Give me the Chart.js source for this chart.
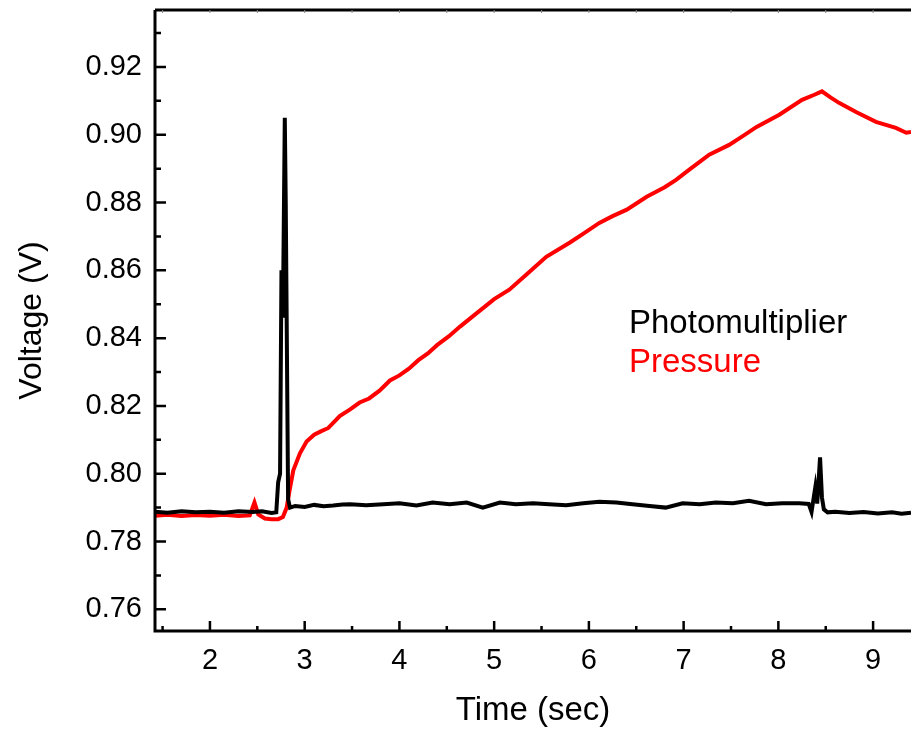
<!DOCTYPE html>
<html lang="en">
<head>
<meta charset="UTF-8" />
<title>Photomultiplier and pressure voltage</title>
<script src="https://cdn.jsdelivr.net/npm/chart.js"></script>
<style>
  body { margin: 0; background: #fff; }
  #chart { display: block; }
</style>
</head>
<body>
<canvas id="chart" width="911" height="731"></canvas>
<script>
  // tick labels
  const xTicks = [2, 3, 4, 5, 6, 7, 8, 9];
  const xMinor = [1.5, 2.5, 3.5, 4.5, 5.5, 6.5, 7.5, 8.5];
  const yTicks = [0.76, 0.78, 0.80, 0.82, 0.84, 0.86, 0.88, 0.90, 0.92];
  const yMinor = [0.77, 0.79, 0.81, 0.83, 0.85, 0.87, 0.89, 0.91, 0.93];

  // Photomultiplier trace
  const pmTime = [1.42, 1.55, 1.7, 1.85, 2.0, 2.15, 2.3, 2.45, 2.55, 2.65, 2.70, 2.72, 2.74, 2.755, 2.77, 2.79, 2.80, 2.825, 2.845,
    2.9, 3.0, 3.1, 3.2, 3.3, 3.4, 3.48, 3.65, 3.83, 4.0, 4.18, 4.35, 4.53, 4.71, 4.88, 5.06, 5.23, 5.41, 5.58, 5.76, 5.94,
    6.11, 6.29, 6.46, 6.64, 6.81, 6.99, 7.17, 7.34, 7.52, 7.69, 7.87, 8.04, 8.22, 8.32, 8.35, 8.39, 8.41, 8.44, 8.46, 8.48,
    8.52, 8.6, 8.75, 8.9, 9.05, 9.2, 9.3, 9.4];
  const pmVolt = [0.7888, 0.7885, 0.7889, 0.7886, 0.7888, 0.7885, 0.7889, 0.7887, 0.7889, 0.7884, 0.7886, 0.7975, 0.8000, 0.8600, 0.8460, 0.9050, 0.8800, 0.7925, 0.7900,
    0.7905, 0.7902, 0.7908, 0.7904, 0.7906, 0.7909, 0.7910, 0.7907, 0.7910, 0.7913, 0.7906, 0.7915, 0.7910, 0.7915, 0.7900, 0.7915, 0.7910, 0.7913, 0.7910, 0.7907, 0.7913,
    0.7917, 0.7915, 0.7910, 0.7905, 0.7900, 0.7913, 0.7910, 0.7915, 0.7913, 0.7920, 0.7910, 0.7913, 0.7913, 0.7911, 0.7887, 0.7960, 0.7912, 0.8048, 0.7930, 0.7895,
    0.7886, 0.7888, 0.7884, 0.7887, 0.7883, 0.7886, 0.7882, 0.7885];

  // Pressure trace
  const prTime = [1.42, 1.55, 1.7, 1.85, 2.0, 2.15, 2.3, 2.42, 2.47, 2.51, 2.58, 2.65, 2.72, 2.77, 2.81, 2.84, 2.88, 2.95, 3.02, 3.1,
    3.17, 3.25, 3.37, 3.48, 3.58, 3.68, 3.79, 3.9, 4.0, 4.1, 4.2, 4.3, 4.4, 4.52, 4.64, 4.8, 5.0, 5.16, 5.35, 5.55,
    5.8, 5.95, 6.11, 6.25, 6.4, 6.61, 6.8, 6.92, 7.06, 7.27, 7.48, 7.62, 7.77, 8.01, 8.25, 8.38, 8.46, 8.55, 8.64, 8.82,
    9.03, 9.24, 9.35, 9.4];
  const prVolt = [0.7876, 0.7879, 0.7875, 0.7878, 0.7876, 0.7879, 0.7875, 0.7877, 0.7915, 0.7880, 0.7868, 0.7866, 0.7866, 0.7872, 0.7900, 0.7950, 0.8010, 0.8060, 0.8095, 0.8115,
    0.8125, 0.8135, 0.8170, 0.8190, 0.8210, 0.8222, 0.8245, 0.8275, 0.8290, 0.8310, 0.8335, 0.8355, 0.8380, 0.8405, 0.8434, 0.8470, 0.8515, 0.8543, 0.8590, 0.8640,
    0.8682, 0.8710, 0.8740, 0.8760, 0.8779, 0.8817, 0.8845, 0.8867, 0.8897, 0.8941, 0.8970, 0.8995, 0.9023, 0.9059, 0.9103, 0.9118, 0.9128, 0.9110, 0.9094, 0.9067,
    0.9038, 0.9020, 0.9006, 0.9008];

  const FONT = "'Liberation Sans', Arial, sans-serif";

  // axes frame with inward ticks + text legend
  const framePlugin = {
    id: 'frame',
    afterDraw(chart) {
      const ctx = chart.ctx;
      const { left, right, top, bottom } = chart.chartArea;
      const xs = chart.scales.x, ys = chart.scales.y;
      ctx.save();
      ctx.strokeStyle = '#000';
      ctx.lineWidth = 3;
      ctx.beginPath();
      ctx.moveTo(left, top); ctx.lineTo(left, bottom); ctx.lineTo(right + 2, bottom);
      ctx.stroke();
      ctx.beginPath();
      ctx.moveTo(left, top); ctx.lineTo(right + 2, top);
      ctx.stroke();

      ctx.lineWidth = 2.5;
      ctx.beginPath();
      yTicks.forEach(v => { const p = ys.getPixelForValue(v); ctx.moveTo(left, p); ctx.lineTo(left + 11, p); });
      yMinor.forEach(v => { const p = ys.getPixelForValue(v); ctx.moveTo(left, p); ctx.lineTo(left + 6, p); });
      xTicks.forEach(v => { const p = xs.getPixelForValue(v); ctx.moveTo(p, bottom); ctx.lineTo(p, bottom - 10); });
      xMinor.forEach(v => { const p = xs.getPixelForValue(v); ctx.moveTo(p, bottom); ctx.lineTo(p, bottom - 5); });
      ctx.stroke();

      ctx.lineWidth = 1;
      ctx.strokeStyle = '#888';
      ctx.beginPath();
      xTicks.concat(xMinor).forEach(v => { const p = xs.getPixelForValue(v); ctx.moveTo(p, top); ctx.lineTo(p, top + 3); });
      ctx.stroke();

      ctx.font = '33px ' + FONT;
      ctx.textAlign = 'left';
      ctx.textBaseline = 'alphabetic';
      ctx.fillStyle = '#000';
      ctx.fillText('Photomultiplier', 629, 333);
      ctx.fillStyle = '#ff0000';
      ctx.fillText('Pressure', 629, 372);
      ctx.restore();
    }
  };

  new Chart(document.getElementById('chart'), {
    type: 'line',
    data: {
      datasets: [
        {
          label: 'Photomultiplier',
          data: pmTime.map((t, i) => ({ x: t, y: pmVolt[i] })),
          borderColor: '#000',
          borderWidth: 4,
          pointRadius: 0,
          tension: 0
        },
        {
          label: 'Pressure',
          data: prTime.map((t, i) => ({ x: t, y: prVolt[i] })),
          borderColor: '#ff0000',
          borderWidth: 4,
          pointRadius: 0,
          tension: 0
        }
      ]
    },
    options: {
      responsive: false,
      animation: false,
      layout: { autoPadding: false, padding: { top: 10, right: 0, left: 0, bottom: 0 } },
      plugins: { legend: { display: false }, tooltip: { enabled: false } },
      scales: {
        x: {
          type: 'linear',
          min: 1.42,
          max: 9.4,
          grid: { display: false, drawTicks: false },
          border: { display: false },
          afterBuildTicks: s => { s.ticks = xTicks.map(v => ({ value: v })); },
          afterFit: s => { s.height = 100; s.paddingLeft = 0; s.paddingRight = 0; },
          ticks: { color: '#000', font: { family: FONT, size: 29 }, padding: 13, maxRotation: 0 },
          title: { display: true, text: 'Time (sec)', color: '#000', font: { family: FONT, size: 33 }, padding: { top: 0, bottom: 0 } }
        },
        y: {
          min: 0.7536,
          max: 0.9368,
          grid: { display: false, drawTicks: false },
          border: { display: false },
          afterBuildTicks: s => { s.ticks = yTicks.map(v => ({ value: v })); },
          afterFit: s => { s.width = 155; s.paddingTop = 0; s.paddingBottom = 0; },
          ticks: { color: '#000', font: { family: FONT, size: 29 }, padding: 13, callback: v => v.toFixed(2) },
          title: { display: true, text: 'Voltage (V)', color: '#000', font: { family: FONT, size: 32 }, padding: { top: 13, bottom: 0 } }
        }
      }
    },
    plugins: [framePlugin]
  });
</script>
</body>
</html>
